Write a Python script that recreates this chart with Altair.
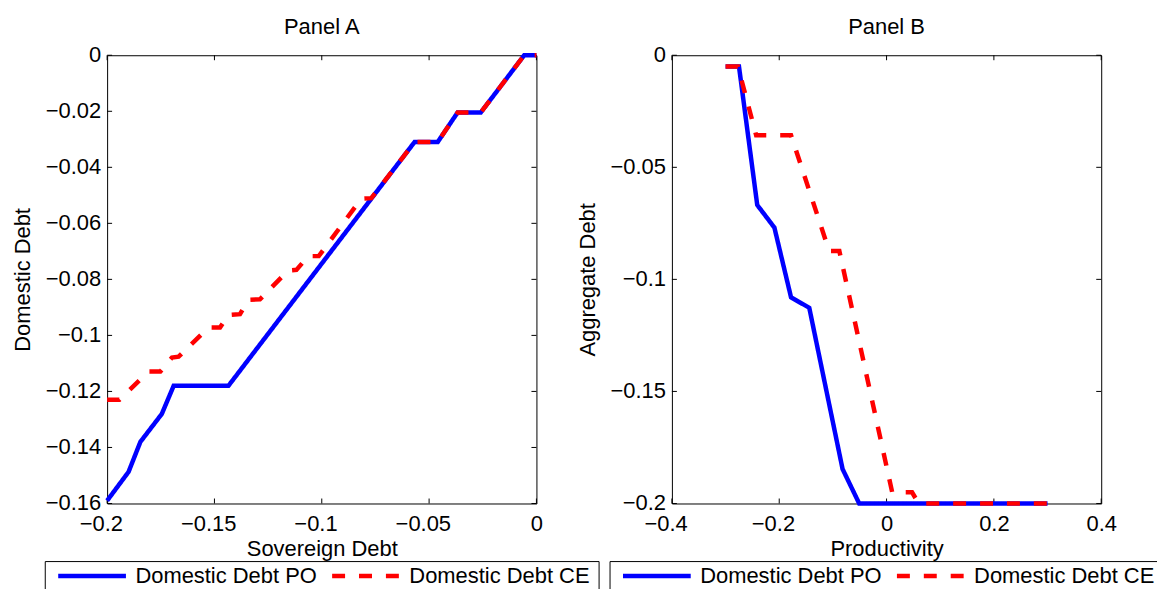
import altair as alt
import pandas as pd

# ---------------- data ----------------
series = ["Domestic Debt PO", "Domestic Debt CE"]
colors = ["#0000ff", "#ff0000"]
dashes = [[1, 0], [13, 14]]

# Panel A: Domestic debt vs sovereign debt
a_po_x = [-0.2, -0.19, -0.1845, -0.1745, -0.169, -0.1435, -0.0568, -0.046, -0.0367, -0.0259, -0.0057, 0.0]
a_po_y = [-0.159, -0.1487, -0.138, -0.128, -0.118, -0.118, -0.031, -0.031, -0.0204, -0.0204, 0.0, 0.0]
a_ce_x = [-0.2, -0.1943, -0.1807, -0.1752, -0.1698, -0.1667, -0.1528, -0.1474, -0.1435, -0.1381,
          -0.1342, -0.1288, -0.1156, -0.1118, -0.1063, -0.1014, -0.0816, -0.0769, -0.0568, -0.046,
          -0.0367, -0.0259, -0.0057, 0.0]
a_ce_y = [-0.123, -0.123, -0.1129, -0.1129, -0.1079, -0.1076, -0.0972, -0.0972, -0.0927, -0.0924,
          -0.0873, -0.0871, -0.0768, -0.0766, -0.0717, -0.0717, -0.0512, -0.051, -0.031, -0.031,
          -0.0204, -0.0204, 0.0, 0.0]

# Panel B: Aggregate debt vs productivity
b_po_x = [-0.30, -0.275, -0.241, -0.209, -0.178, -0.144, -0.082, -0.051, 0.30]
b_po_y = [-0.005, -0.005, -0.0668, -0.0769, -0.108, -0.1127, -0.1846, -0.2, -0.2]
b_ce_x = [-0.30, -0.277, -0.243, -0.178, -0.107, -0.088, 0.0105, 0.0475, 0.06, 0.30]
b_ce_y = [-0.005, -0.005, -0.0357, -0.0357, -0.0873, -0.0873, -0.195, -0.195, -0.2, -0.2]

a_xticks = [-0.2, -0.15, -0.1, -0.05, 0]
a_yticks = [-0.16, -0.14, -0.12, -0.1, -0.08, -0.06, -0.04, -0.02, 0]
b_xticks = [-0.4, -0.2, 0, 0.2, 0.4]
b_yticks = [-0.2, -0.15, -0.1, -0.05, 0]

FONT = "Liberation Sans"
W, H = 431, 450
TICK = 5


def panel(px, py, cx, cy, xt, yt, xdom, ydom, title, xtitle, ytitle):
    df = pd.concat([
        pd.DataFrame({"x": px, "y": py, "s": series[0]}),
        pd.DataFrame({"x": cx, "y": cy, "s": series[1]}),
    ])
    xs = alt.Scale(domain=xdom, nice=False, zero=False)
    ys = alt.Scale(domain=ydom, nice=False, zero=False)
    xax = alt.Axis(values=xt, format="~g", ticks=False, tickSize=0, domain=False, grid=False,
                   labelFlush=False, labelOverlap=False, labelFont=FONT, labelFontSize=22,
                   labelColor="black", labelPadding=9.9,
                   labelOffset={"condition": {"test": "datum.value < 0", "value": -6.3}, "value": 0},
                   title=xtitle, titleFont=FONT,
                   titleFontSize=22, titleFontWeight="normal", titleColor="black", titlePadding=4.3)
    yax = alt.Axis(values=yt, format="~g", ticks=False, tickSize=0, domain=False, grid=False,
                   labelFlush=False, labelOverlap=False, labelFont=FONT, labelFontSize=22,
                   labelColor="black", labelPadding=6.5, labelOffset=-1,
                   title=ytitle, titleFont=FONT,
                   titleFontSize=22, titleFontWeight="normal", titleColor="black", titlePadding=11)
    leg = alt.Legend(orient="none", legendX=-62.6, legendY=507.8, direction="horizontal",
                     columns=2, title=None, symbolType="stroke", symbolSize=4624,
                     symbolStrokeWidth=4.5, symbolOffset=2, labelFont=FONT, labelFontSize=22,
                     labelColor="black", labelLimit=400, labelOffset=7, columnPadding=10,
                     padding=9, strokeColor="black", fillColor="white", clipHeight=12)
    color = alt.Color("s:N", scale=alt.Scale(domain=series, range=colors), legend=leg)
    dash = alt.StrokeDash("s:N", scale=alt.Scale(domain=series, range=dashes), legend=leg)

    base = alt.Chart(df)
    po = base.transform_filter(alt.datum.s == series[0]).mark_line(
        strokeWidth=4.5, strokeCap="butt").encode(
        x=alt.X("x:Q", scale=xs, axis=xax), y=alt.Y("y:Q", scale=ys, axis=yax),
        color=color, strokeDash=dash)
    ce = base.transform_filter(alt.datum.s == series[1]).mark_line(
        strokeWidth=4.5, strokeCap="butt").encode(
        x=alt.X("x:Q", scale=xs, axis=xax), y=alt.Y("y:Q", scale=ys, axis=yax),
        color=color, strokeDash=dash)

    xt_df = pd.DataFrame({"v": xt})
    yt_df = pd.DataFrame({"v": yt})
    tb = alt.Chart(xt_df).mark_rule(color="black", strokeWidth=1).encode(
        x=alt.X("v:Q", scale=xs, axis=xax), y=alt.value(H), y2=alt.value(H - TICK))
    tt = alt.Chart(xt_df).mark_rule(color="black", strokeWidth=1).encode(
        x=alt.X("v:Q", scale=xs, axis=xax), y=alt.value(0), y2=alt.value(TICK))
    tl = alt.Chart(yt_df).mark_rule(color="black", strokeWidth=1).encode(
        y=alt.Y("v:Q", scale=ys, axis=yax), x=alt.value(0), x2=alt.value(TICK))
    tr = alt.Chart(yt_df).mark_rule(color="black", strokeWidth=1).encode(
        y=alt.Y("v:Q", scale=ys, axis=yax), x=alt.value(W), x2=alt.value(W - TICK))

    return alt.layer(tb, tt, tl, tr, po, ce).properties(
        width=W, height=H,
        title=alt.Title(title, font=FONT, fontSize=22, fontWeight="normal", color="black", offset=4.8),
    )


pa = panel(a_po_x, a_po_y, a_ce_x, a_ce_y, a_xticks, a_yticks, [-0.2, 0], [-0.16, 0],
           "Panel A", "Sovereign Debt", "Domestic Debt")
pb = panel(b_po_x, b_po_y, b_ce_x, b_ce_y, b_xticks, b_yticks, [-0.4, 0.4], [-0.2, 0],
           "Panel B", "Productivity", "Aggregate Debt")

chart = alt.hconcat(pa, pb, spacing=136, bounds="flush").resolve_legend(
    color="independent", strokeDash="independent"
).configure_view(stroke="black", strokeWidth=1).properties(
    padding={"left": 2.5, "top": 5.3, "right": -8, "bottom": -9}, background="white"
)

chart.save("out.html", embed_options={"renderer": "svg", "actions": False})
